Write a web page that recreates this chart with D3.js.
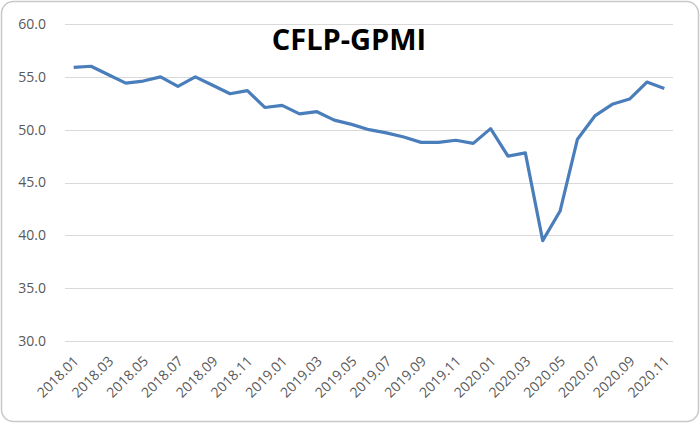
<!DOCTYPE html>
<html><head><meta charset="utf-8">
<script src="https://cdn.jsdelivr.net/npm/d3@7"></script>
<style>body{margin:0;background:#fff;} svg{display:block;}</style>
</head><body>
<svg id="c" width="700" height="423"></svg>
<script>
const months = ["2018.01","2018.02","2018.03","2018.04","2018.05","2018.06","2018.07","2018.08","2018.09","2018.10","2018.11","2018.12",
"2019.01","2019.02","2019.03","2019.04","2019.05","2019.06","2019.07","2019.08","2019.09","2019.10","2019.11","2019.12",
"2020.01","2020.02","2020.03","2020.04","2020.05","2020.06","2020.07","2020.08","2020.09","2020.10","2020.11"];
const gpmi = [55.9,56.0,55.2,54.4,54.6,55.0,54.1,55.0,54.2,53.4,53.7,52.1,
52.3,51.5,51.7,50.9,50.5,50.0,49.7,49.3,48.8,48.8,49.0,48.7,
50.1,47.5,47.8,39.5,42.3,49.1,51.3,52.4,52.9,54.5,53.9];
const yTicks = [30,35,40,45,50,55,60];
const title = "CFLP-GPMI";

(function(){
const svg = d3.select("#c");
svg.append("rect").attr("x",1.5).attr("y",1.5).attr("width",697).attr("height",420)
  .attr("rx",12).attr("fill","#fff").attr("stroke","#c8c8c8").attr("stroke-width",1.5);

const pL=65, pR=673, pT=24, pB=341;
const x = d3.scaleBand().domain(months).range([pL,pR]);
const y = d3.scaleLinear().domain([30,60]).range([pB,pT]);

const g = svg.append("g");
g.selectAll("line.grid").data(yTicks).join("line").attr("class","grid")
  .attr("x1",pL).attr("x2",pR).attr("y1",d=>Math.round(y(d))+0.5).attr("y2",d=>Math.round(y(d))+0.5)
  .attr("stroke","#d9d9d9").attr("stroke-width",1);

g.selectAll("text.yl").data(yTicks).join("text").attr("class","yl")
  .attr("x",46).attr("y",d=>y(d)).attr("dy","0.35em").attr("text-anchor","end")
  .attr("font-family","'Open Sans', sans-serif").attr("font-size",14).attr("fill","#595959")
  .text(d=>d3.format(".1f")(d));

const xl = months.filter((m,i)=>i%2===0);
g.selectAll("text.xl").data(xl).join("text").attr("class","xl")
  .attr("transform",d=>`translate(${x(d)+x.bandwidth()/2+6},${pB+21}) rotate(-45)`)
  .attr("text-anchor","end")
  .attr("font-family","'Open Sans', sans-serif").attr("font-size",14).attr("fill","#595959")
  .text(d=>d);

const line = d3.line().x((d,i)=>x(months[i])+x.bandwidth()/2).y(d=>y(d));
g.append("path").datum(gpmi).attr("d",line).attr("fill","none")
  .attr("stroke","#4a7ebb").attr("stroke-width",3.2).attr("stroke-linejoin","round");

svg.append("text").attr("x",349).attr("y",50).attr("text-anchor","middle")
  .attr("font-family","'Open Sans', sans-serif").attr("font-weight","bold").attr("font-size",29)
  .attr("fill","#000").text(title);
})();
</script>
</body></html>
